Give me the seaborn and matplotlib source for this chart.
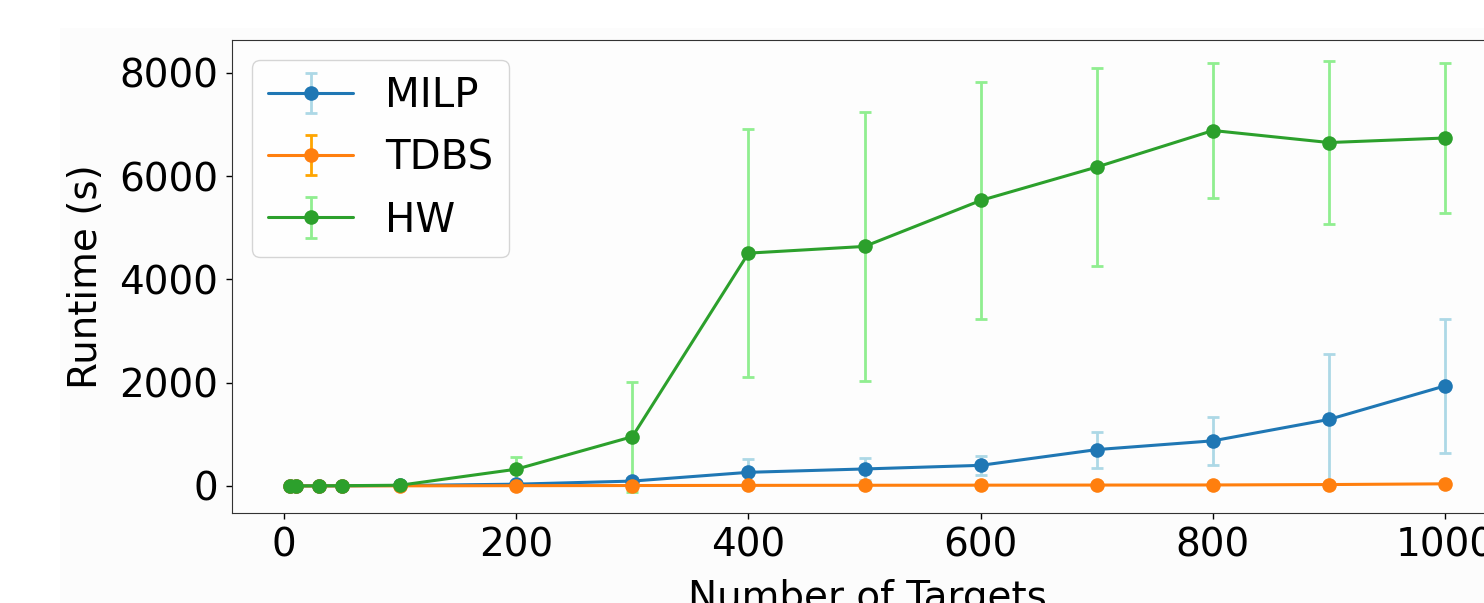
import numpy as np
import pandas as pd
import seaborn as sns
import matplotlib.pyplot as plt
from matplotlib.patches import Rectangle
from matplotlib.container import ErrorbarContainer

# number of targets
targets = [5, 10, 30, 50, 100, 200, 300, 400, 500, 600, 700, 800, 900, 1000]

# mean runtimes (s) and std
milp_mean = [0.5, 1, 2, 4, 10, 35, 95, 265, 330, 400, 705, 875, 1290, 1940]
milp_std = [0.2, 0.5, 1, 2, 6, 20, 60, 264, 212, 178, 350, 470, 1262, 1292]
tdbs_mean = [0.2, 0.4, 1, 1.5, 3, 6, 9, 12, 14, 16, 18, 20, 28, 42]
tdbs_std = [0.1, 0.2, 0.5, 1, 2, 4, 6, 8, 9, 10, 12, 14, 18, 25]
hw_mean = [1, 2, 4, 6, 15, 325, 955, 4510, 4640, 5530, 6178, 6885, 6652, 6740]
hw_std = [0.5, 1, 2, 3, 10, 244, 1065, 2405, 2610, 2290, 1917, 1314, 1578, 1447]

methods = ["MILP", "TDBS", "HW"]
line_colors = {"MILP": "#1f77b4", "TDBS": "#ff7f0e", "HW": "#2ca02c"}
err_colors = {"MILP": "lightblue", "TDBS": "orange", "HW": "lightgreen"}

means = {"MILP": milp_mean, "TDBS": tdbs_mean, "HW": hw_mean}
stds = {"MILP": milp_std, "TDBS": tdbs_std, "HW": hw_std}

df = pd.concat([pd.DataFrame({"Targets": targets, "Runtime": means[m], "Method": m})
                for m in methods], ignore_index=True)

sns.set_style("ticks")
plt.rcParams['font.family'] = ['DejaVu Sans']
plt.rcParams['text.color'] = 'black'
plt.rcParams['axes.labelcolor'] = 'black'
plt.rcParams['xtick.color'] = 'black'
plt.rcParams['ytick.color'] = 'black'

fig = plt.figure(figsize=(14.84, 6.03), dpi=100, facecolor="white")
fig.patches.append(Rectangle((60 / 1484, 0), 1, 1 - 28 / 603, transform=fig.transFigure,
                             facecolor="#fcfcfc", edgecolor="none", zorder=-10))
ax = fig.add_axes([232 / 1484, 90 / 603, 1271 / 1484, 473 / 603])
ax.set_facecolor("#fdfdfd")

# error bars first, lines on top
bars = {}
for m in methods:
    bars[m] = ax.errorbar(targets, means[m], yerr=stds[m], fmt="none", ecolor=err_colors[m],
                          elinewidth=2, capsize=4.5, capthick=2, zorder=2)

sns.lineplot(data=df, x="Targets", y="Runtime", hue="Method", palette=line_colors,
             marker="o", markersize=10.5, markeredgewidth=0, linewidth=2.2,
             legend=False, ax=ax, zorder=3)

handles = []
for i, m in enumerate(methods):
    eb = bars[m]
    handles.append(ErrorbarContainer((ax.lines[-3 + i], eb[1], eb[2]), has_xerr=False,
                                     has_yerr=True, label=m))
ax.legend(handles=handles, labels=methods, loc="upper left", fontsize=29,
          handlelength=2.1, labelspacing=0.55)

ax.set_xlim(-44.75, 1049.75)
ax.set_ylim(-523, 8638)
ax.set_xticks([0, 200, 400, 600, 800, 1000])
ax.set_yticks([0, 2000, 4000, 6000, 8000])
ax.tick_params(labelsize=28, length=4.5, width=1, pad=5.5)
ax.set_xlabel("Number of Targets", fontsize=28, labelpad=10)
ax.set_ylabel("Runtime (s)", fontsize=28, labelpad=10)
for s in ax.spines.values():
    s.set_color("#333333")

fig.savefig("out.png", dpi=100)
